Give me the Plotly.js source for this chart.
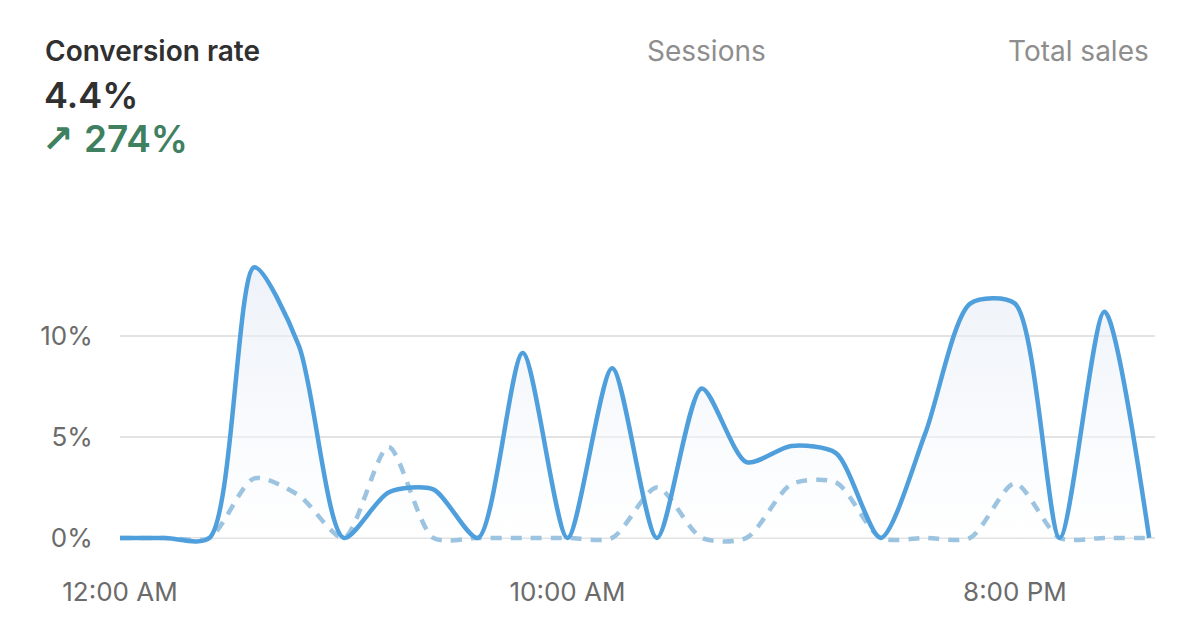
<!DOCTYPE html>
<html>
<head>
<meta charset="utf-8">
<script src="https://cdn.plot.ly/plotly-3.0.1.min.js"></script>
<style>
  html, body { margin: 0; padding: 0; background: #ffffff; }
  #chart { width: 1200px; height: 642px; }
</style>
</head>
<body>
<div id="chart"></div>
<script>
// ---- Data ----
const hours = [0,1,2,3,4,5,6,7,8,9,10,11,12,13,14,15,16,17,18,19,20,21,22,23];
const conversionRate = [0,0,0,13.4,9.5,0,2.25,2.4,0,9.15,0,8.4,0,7.4,3.75,4.55,4.2,0,5.2,11.6,11.6,0,11.2,0];
const previousRate   = [0,0,0,2.95,2.1,0,4.5,0,0,0,0,0,2.5,0,0,2.65,2.75,0,0,0,2.7,0,0,0];
const xTickVals = [0, 10, 20];
const xTickText = ["12:00 AM", "10:00 AM", "8:00 PM"];
const yTickVals = [0, 5, 10];
const yTickText = ["0%", "5%", "10%"];
const metricTitle = "Conversion rate";
const metricValue = "4.4%";
const metricArrow = "↗";
const metricChange = "274%";
const otherMetrics = ["Sessions", "Total sales"];

// ---- Layout geometry ----
const W = 1200, Hgt = 642;
const L = 120, R = 45, T = 245, B = 94;
const PW = W - L - R, PH = Hgt - T - B;
const px = x => (x - L) / PW;
const py = y => (T + PH - y) / PH;
const FONT = "Inter, 'Noto Sans', Roboto, sans-serif";
const SM = 0.75;

const traces = [
  { // faint area under the current series
    x: hours, y: conversionRate, type: 'scatter', mode: 'none',
    line: { shape: 'spline', smoothing: SM },
    fill: 'tozeroy',
    fillgradient: {
      type: 'vertical',
      colorscale: [[0, 'rgba(255,255,255,0.5)'], [1, 'rgba(226,234,245,0.6)']]
    },
    hoverinfo: 'skip', showlegend: false
  },
  { // previous period (dashed)
    x: hours, y: previousRate, type: 'scatter', mode: 'lines',
    line: { color: '#9cc4e1', width: 4.5, dash: '11px,9px', shape: 'spline', smoothing: SM },
    hoverinfo: 'skip', showlegend: false
  },
  { // current period line
    x: hours, y: conversionRate, type: 'scatter', mode: 'lines',
    line: { color: '#4f9fdc', width: 4.5, shape: 'spline', smoothing: SM },
    hoverinfo: 'skip', showlegend: false
  }
];

const layout = {
  width: W, height: Hgt,
  margin: { l: L, r: R, t: T, b: B },
  paper_bgcolor: '#ffffff', plot_bgcolor: '#ffffff',
  font: { family: FONT, color: '#6b6b6b' },
  showlegend: false,
  xaxis: {
    range: [0, 23.13], showgrid: false, zeroline: false, showline: false,
    tickmode: 'array', tickvals: xTickVals, ticktext: xTickText,
    ticks: 'outside', ticklen: 21, tickcolor: 'rgba(0,0,0,0)',
    tickfont: { size: 26, color: '#6b6b6b', family: FONT },
    fixedrange: true
  },
  yaxis: {
    range: [-0.5, 14.5], showgrid: true, gridcolor: '#e3e3e3', gridwidth: 2,
    zeroline: false, showline: false,
    tickmode: 'array', tickvals: yTickVals, ticktext: yTickText,
    ticks: 'outside', ticklen: 21, tickcolor: 'rgba(0,0,0,0)',
    tickfont: { size: 26, color: '#6b6b6b', family: FONT },
    fixedrange: true
  },
  annotations: [
    { text: metricTitle, x: px(43), y: py(51), xref: 'paper', yref: 'paper',
      xanchor: 'left', yanchor: 'middle', showarrow: false,
      font: { size: 28, color: '#303030', family: FONT, weight: 600 } },
    { text: metricValue, x: px(42), y: py(95), xref: 'paper', yref: 'paper',
      xanchor: 'left', yanchor: 'middle', showarrow: false,
      font: { size: 36, color: '#303030', family: FONT, weight: 600 } },
    { text: metricArrow, x: px(40), y: py(139), xref: 'paper', yref: 'paper',
      xanchor: 'left', yanchor: 'middle', showarrow: false,
      font: { size: 38, color: '#3f8060', family: "'DejaVu Sans', sans-serif", weight: 'bold' } },
    { text: metricChange, x: px(82), y: py(138), xref: 'paper', yref: 'paper',
      xanchor: 'left', yanchor: 'middle', showarrow: false,
      font: { size: 37, color: '#3f8060', family: FONT, weight: 600 } },
    { text: otherMetrics[0], x: px(706), y: py(51), xref: 'paper', yref: 'paper',
      xanchor: 'center', yanchor: 'middle', showarrow: false,
      font: { size: 28, color: '#8e8e8e', family: FONT } },
    { text: otherMetrics[1], x: px(1151), y: py(51), xref: 'paper', yref: 'paper',
      xanchor: 'right', yanchor: 'middle', showarrow: false,
      font: { size: 28, color: '#8e8e8e', family: FONT } }
  ]
};

Plotly.newPlot('chart', traces, layout, { displayModeBar: false, staticPlot: true });
</script>
</body>
</html>
